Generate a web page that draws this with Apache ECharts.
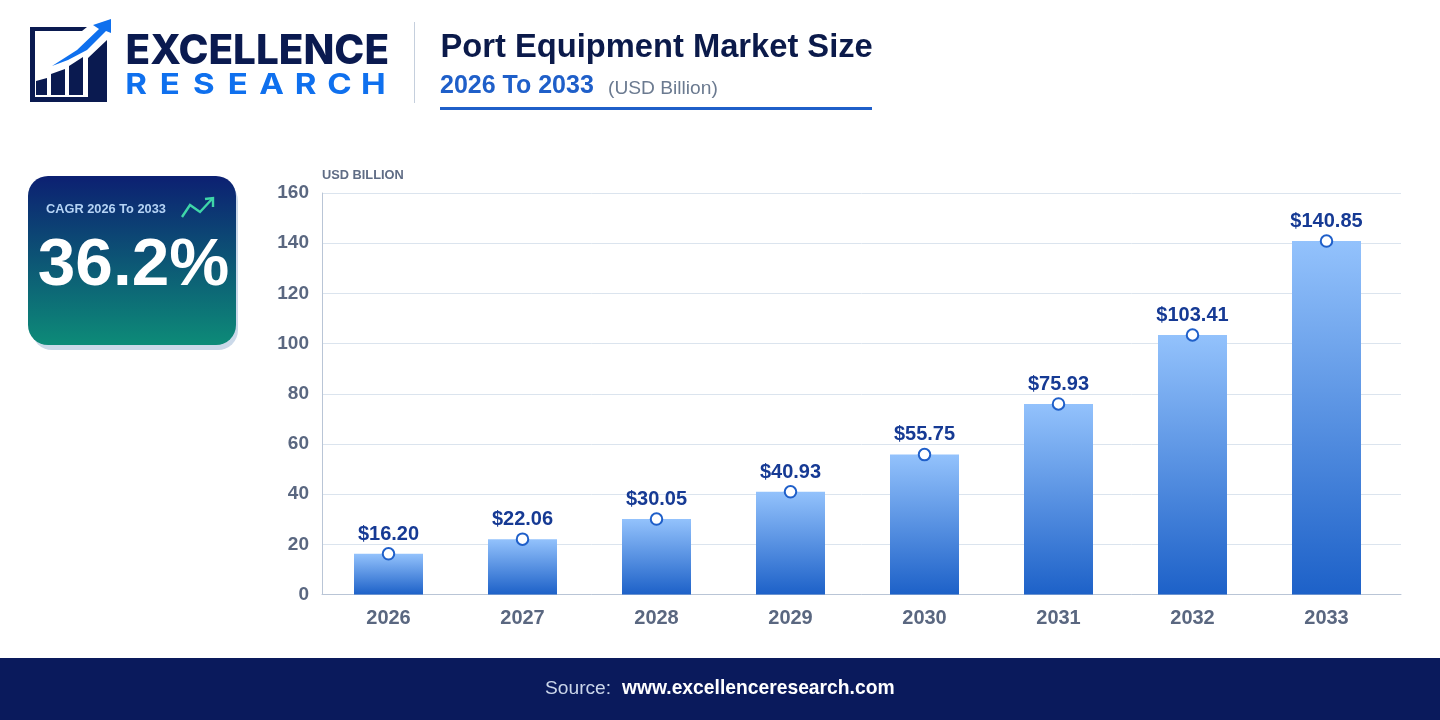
<!DOCTYPE html>
<html>
<head>
<meta charset="utf-8">
<style>html,body{margin:0;padding:0;background:#fff}#chart{width:1440px;height:720px}</style>
<script src="https://cdn.jsdelivr.net/npm/echarts@6/dist/echarts.min.js"></script>
</head>
<body>
<div id="chart"></div>
<script>
// Market size by year, USD billion
const years = ['2026', '2027', '2028', '2029', '2030', '2031', '2032', '2033'];
const marketSize = [16.20, 22.06, 30.05, 40.93, 55.75, 75.93, 103.41, 140.85];
const cagrValue = '36.2%';
const cagrLabel = 'CAGR 2026 To 2033';
const brandTop = 'EXCELLENCE';
const brandBottom = 'RESEARCH';

const sans = '"Liberation Sans", Arial, sans-serif';
const linear = (stops, x2 = 0, y2 = 1) => ({
  type: 'linear', x: 0, y: 0, x2, y2,
  colorStops: stops.map((c, i) => ({ offset: i / (stops.length - 1), color: c }))
});

// Spaced wordmark: one slightly widened text element per letter
const bottomLetters = brandBottom.split('').map((ch, i) => ({
  type: 'text',
  x: 136 + i * 33.9, y: 85.5, scaleX: 1.14,
  style: {
    x: 0, y: 0, text: ch, fill: '#0f70ee', align: 'center', verticalAlign: 'middle',
    font: '700 29px Inter, sans-serif'
  }
}));

const plotTop = 193;
const plotBottom = 125.5;

const chart = echarts.init(document.getElementById('chart'), null, { renderer: 'canvas' });
chart.setOption({
  animation: false,
  backgroundColor: '#ffffff',
  // First grid carries the gridlines and axis lines; the second, slightly narrower, holds the bars
  grid: [
    { left: 322, right: 39, top: plotTop, bottom: plotBottom },
    { left: 321.5, width: 1072, top: plotTop, bottom: plotBottom }
  ],
  xAxis: [
    {
      gridIndex: 0, type: 'value', min: 0, max: 1,
      axisLine: { show: true, lineStyle: { color: '#b9c5d6', width: 1 } },
      axisTick: { show: false }, axisLabel: { show: false }, splitLine: { show: false }
    },
    {
      gridIndex: 1, type: 'category', data: years,
      axisLine: { show: false },
      axisTick: { show: false },
      axisLabel: { color: '#5a6780', fontFamily: sans, fontWeight: 'bold', fontSize: 20, margin: 14 }
    }
  ],
  yAxis: [
    {
      gridIndex: 0, type: 'value', min: 0, max: 160, interval: 20,
      axisLine: { show: true, lineStyle: { color: '#b9c5d6', width: 1 } },
      axisTick: { show: false },
      splitLine: { lineStyle: { color: '#dbe4ee', width: 1 } },
      axisLabel: { color: '#5a6780', fontFamily: sans, fontWeight: 'bold', fontSize: 19, margin: 13 }
    },
    {
      gridIndex: 1, type: 'value', min: 0, max: 160, interval: 20,
      axisLine: { show: false }, axisTick: { show: false },
      axisLabel: { show: false }, splitLine: { show: false }
    }
  ],
  series: [
    {
      type: 'bar', xAxisIndex: 1, yAxisIndex: 1, data: marketSize, barWidth: 69, silent: true,
      itemStyle: { color: linear(['#93c2fc', '#1d61c8']) }
    },
    {
      type: 'scatter', xAxisIndex: 1, yAxisIndex: 1, data: marketSize, symbol: 'circle', symbolSize: 11.5, silent: true, z: 5,
      itemStyle: { color: '#ffffff', borderColor: '#1f5fc9', borderWidth: 2, opacity: 1 },
      label: {
        show: true, position: 'top', distance: 3, color: '#163a94',
        fontFamily: sans, fontWeight: 'bold', fontSize: 20,
        formatter: p => '$' + p.value.toFixed(2)
      }
    }
  ],
  graphic: { elements: [
    // Footer band
    { type: 'rect', shape: { x: 0, y: 658, width: 1440, height: 62 }, style: { fill: '#0a1a5c' } },
    { type: 'text', style: { x: 545, y: 688.5, text: 'Source:', fill: '#cbd6ea', verticalAlign: 'middle', font: '19.2px ' + sans } },
    { type: 'text', style: { x: 622, y: 688.5, text: 'www.excellenceresearch.com', fill: '#ffffff', verticalAlign: 'middle', font: 'bold 19.3px ' + sans } },

    // Logo mark
    { type: 'polygon', shape: { points: [[30,27],[87,27],[82,31],[35,31],[35,97],[88,97],[88,58],[107,40],[107,102],[30,102]] }, style: { fill: '#0a1a50' } },
    { type: 'polygon', shape: { points: [[36,81],[47,78],[47,95],[36,95]] }, style: { fill: '#0a1a50' } },
    { type: 'polygon', shape: { points: [[51,74],[65,69],[65,95],[51,95]] }, style: { fill: '#0a1a50' } },
    { type: 'polygon', shape: { points: [[69,66],[83,57],[83,95],[69,95]] }, style: { fill: '#0a1a50' } },
    { type: 'polygon', shape: { points: [[52,66],[77,50],[99,29],[93,25],[111,19],[111,33],[106,31],[87,50],[68,60]] }, style: { fill: '#0f70ee' } },

    // Wordmark
    { type: 'text', style: { x: 125.5, y: 52, text: brandTop, fill: '#0a1a50', verticalAlign: 'middle', font: '800 40.4px Inter, sans-serif' } },
    ...bottomLetters,

    // Divider and heading
    { type: 'rect', shape: { x: 414, y: 22, width: 1, height: 81 }, style: { fill: '#c5cfdd' } },
    { type: 'text', style: { x: 440.5, y: 48, text: 'Port Equipment Market Size', fill: '#0b1a4a', verticalAlign: 'middle', font: 'bold 32.7px ' + sans } },
    { type: 'text', style: { x: 440, y: 86.5, text: '2026 To 2033', fill: '#1f5fc9', verticalAlign: 'middle', font: 'bold 25px ' + sans } },
    { type: 'text', style: { x: 608, y: 88.5, text: '(USD Billion)', fill: '#6b7a90', verticalAlign: 'middle', font: '19.2px ' + sans } },
    { type: 'rect', shape: { x: 440, y: 107, width: 432, height: 3 }, style: { fill: '#1f5fc9' } },

    // CAGR card
    { type: 'rect', shape: { x: 32, y: 181, width: 206, height: 169, r: 20 }, style: { fill: '#cbd9e9' } },
    { type: 'rect', shape: { x: 28, y: 176, width: 208, height: 169, r: 20 }, style: { fill: linear(['#0c2072', '#0d8b78']) } },
    { type: 'text', style: { x: 46, y: 209.5, text: cagrLabel, fill: '#b5d3f5', verticalAlign: 'middle', font: 'bold 12.8px ' + sans } },
    { type: 'polyline', shape: { points: [[182,217],[190,205],[200,212],[213,198]] }, style: { stroke: '#3fd6a8', lineWidth: 2.4, fill: 'none' } },
    { type: 'polyline', shape: { points: [[205,199],[213,198],[213,207]] }, style: { stroke: '#3fd6a8', lineWidth: 2.4, fill: 'none' } },
    { type: 'text', style: { x: 133.5, y: 266, text: cagrValue, fill: '#ffffff', align: 'center', verticalAlign: 'middle', font: 'bold 67.5px ' + sans } },

    // Axis unit caption
    { type: 'text', style: { x: 322, y: 175.5, text: 'USD BILLION', fill: '#5f6c85', verticalAlign: 'middle', font: 'bold 12.8px ' + sans } }
  ] }
});
</script>
</body>
</html>
